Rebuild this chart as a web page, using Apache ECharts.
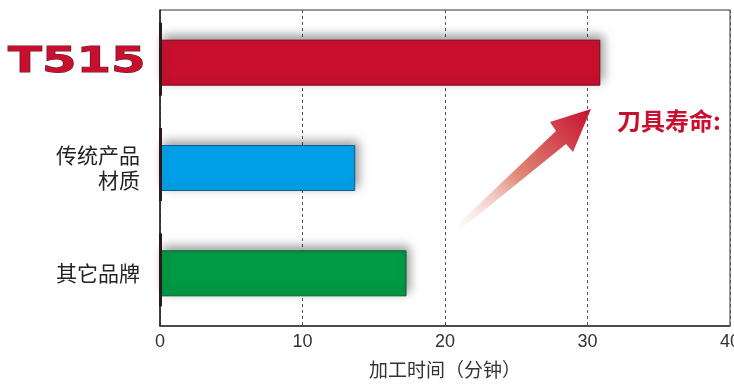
<!DOCTYPE html>
<html><head><meta charset="utf-8">
<script src="https://cdn.jsdelivr.net/npm/echarts@6/dist/echarts.min.js"></script>
<style>html,body{margin:0;padding:0;background:#fff}#c{width:734px;height:385px}</style>
</head><body><div id="c"></div>
<script>
var categories = ['T515', '传统产品\n材质', '其它品牌'];
var values = [30.9, 13.7, 17.3];
var barColors = ['#c8102e', '#00a0e9', '#009944'];
var borderColors = ['#7a0a1c', '#0b5f8a', '#0b5a2c'];
var xTicks = [0, 10, 20, 30, 40];

var chart = echarts.init(document.getElementById('c'));
var font = '"Noto Sans CJK SC", "Noto Sans", sans-serif';
chart.setOption({
  animation: false,
  grid: {left: 160, right: 4, top: 10, bottom: 59, show: true, borderColor: '#333', borderWidth: 1,
         outerBoundsMode: 'none', containLabel: false},
  xAxis: {
    type: 'value', min: xTicks[0], max: xTicks[xTicks.length-1], interval: 10,
    axisLine: {show: true, lineStyle: {color: '#333', width: 1.5}},
    axisTick: {show: false},
    axisLabel: {color: '#333', fontSize: 18, fontFamily: 'Liberation Sans, Arial, sans-serif', margin: 7},
    splitLine: {show: true, lineStyle: {color: '#555', type: [3, 3], width: 1}},
    name: '加工时间（分钟）', nameLocation: 'middle', nameGap: 34,
    nameTextStyle: {color: '#333', fontSize: 19, fontFamily: font}
  },
  yAxis: {
    type: 'category', data: categories, inverse: true,
    axisLine: {show: true, lineStyle: {color: '#222', width: 1.5}},
    axisTick: {show: false},
    axisLabel: {
      margin: 20, color: '#222', fontSize: 21, fontFamily: font, lineHeight: 25, align: 'right',
      formatter: function (v, i) { return i === 0 ? '' : v; }
    }
  },
  series: [{
    type: 'bar',
    data: values.map(function (v, i) {
      return {value: v, itemStyle: {color: barColors[i], borderColor: borderColors[i]}};
    }),
    barWidth: 46, z: 2,
    itemStyle: {borderWidth: 1, shadowColor: 'rgba(0,0,0,0.4)', shadowBlur: 10, shadowOffsetX: 3, shadowOffsetY: -4}
  }, {
    type: 'custom', z: 3, silent: true,
    data: categories.map(function (c, i) { return [0, i]; }),
    renderItem: function (params, api) {
      var p = api.coord([0, api.value(1)]);
      return {type: 'rect', shape: {x: p[0] - 1, y: p[1] - 40, width: 3, height: 73},
              style: {fill: '#2a1a1a'}};
    }
  }],
  graphic: [
    {type: 'text', x: 8, y: 63, scaleX: 1.42, silent: true,
     style: {text: categories[0], fontSize: 35, fontWeight: 'bold', fill: '#c8102e',
       fontFamily: '"DejaVu Sans", sans-serif', stroke: '#5a1a20', lineWidth: 1,
       verticalAlign: 'middle', align: 'left'}},
    {type: 'polygon', silent: true,
     shape: {points: [[456, 226], [556, 131], [550, 122], [591, 109], [573, 152], [566, 144], [461, 229]]},
     style: {fill: new echarts.graphic.LinearGradient(0, 1, 1, 0, [
       {offset: 0, color: 'rgba(245,225,215,0.1)'},
       {offset: 0.45, color: '#e08a78'},
       {offset: 1, color: '#c8102e'}])}},
    {type: 'text', x: 617, y: 121, silent: true,
     style: {text: '刀具寿命:', fontSize: 24, fontWeight: 'bold', fill: '#c8102e', fontFamily: font,
       verticalAlign: 'middle'}}
  ]
});
</script></body></html>
